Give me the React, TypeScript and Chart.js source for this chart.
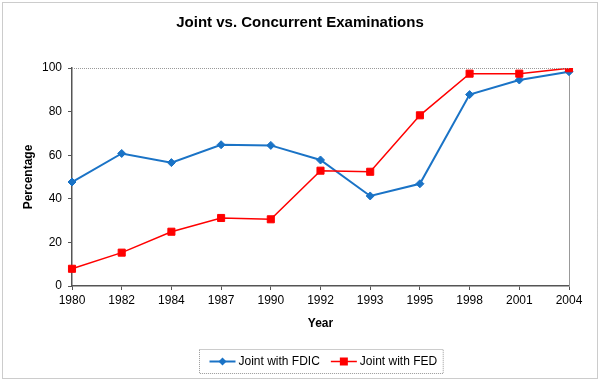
import React, { useEffect, useRef } from 'react';
import { Chart, registerables } from 'chart.js';

Chart.register(...registerables);

const years = ['1980', '1982', '1984', '1987', '1990', '1992', '1993', '1995', '1998', '2001', '2004'];
const fdicValues = [47.7, 60.8, 56.6, 64.8, 64.5, 57.8, 41.3, 46.9, 87.8, 94.5, 98.3];
const fedValues = [7.9, 15.3, 24.9, 31.2, 30.6, 52.9, 52.4, 78.3, 97.4, 97.4, 99.9];
const yTicks = [0, 20, 40, 60, 80, 100];

const FONT = 'Arial, "Liberation Sans", sans-serif';
const BLUE = '#1a73c6';
const RED = '#ff0000';
const AXIS = '#555555';

const decorPlugin = {
  id: 'decor',
  beforeDraw(chart: any) {
    const { ctx, width, height } = chart;
    ctx.save();
    ctx.fillStyle = '#ffffff';
    ctx.fillRect(0, 0, width, height);
    ctx.restore();
  },
  afterDraw(chart: any) {
    const { ctx, chartArea } = chart;
    ctx.save();
    // outer dotted frame
    ctx.setLineDash([1, 1]);
    ctx.strokeStyle = '#999999';
    ctx.lineWidth = 1;
    ctx.strokeRect(2.5, 2.5, chart.width - 5, chart.height - 5);
    // top border of plot area
    ctx.beginPath();
    ctx.moveTo(chartArea.left, chartArea.top + 0.5);
    ctx.lineTo(chartArea.right, chartArea.top + 0.5);
    ctx.stroke();
    ctx.setLineDash([]);

    // legend
    const ds = chart.data.datasets;
    ctx.font = `12px ${FONT}`;
    ctx.textBaseline = 'middle';
    ctx.textAlign = 'left';
    const lineLen = 26;
    const padL = 10;
    const padR = 6;
    const gapText = 3;
    const gapItem = 11;
    const widths = ds.map((d: any) => ctx.measureText(d.label).width);
    let total = padL + padR;
    widths.forEach((w: number, i: number) => {
      total += lineLen + gapText + w + (i < widths.length - 1 ? gapItem : 0);
    });
    const cx = (chartArea.left + chartArea.right) / 2;
    const boxX = Math.round(cx - total / 2) + 0.5;
    const boxY = 349.5;
    const boxH = 24;
    ctx.setLineDash([1, 1]);
    ctx.strokeStyle = '#999999';
    ctx.strokeRect(boxX, boxY, total, boxH);
    ctx.setLineDash([]);
    const midY = boxY + boxH / 2;
    let x = boxX + padL;
    ds.forEach((d: any, i: number) => {
      ctx.strokeStyle = d.borderColor;
      ctx.lineWidth = d.borderWidth;
      ctx.beginPath();
      ctx.moveTo(x, midY);
      ctx.lineTo(x + lineLen, midY);
      ctx.stroke();
      const mx = x + lineLen / 2;
      ctx.fillStyle = d.pointBackgroundColor;
      ctx.beginPath();
      if (d.pointStyle === 'rect') {
        ctx.rect(mx - 4, midY - 4, 8, 8);
      } else {
        const r = 4;
        ctx.moveTo(mx, midY - r);
        ctx.lineTo(mx + r, midY);
        ctx.lineTo(mx, midY + r);
        ctx.lineTo(mx - r, midY);
        ctx.closePath();
      }
      ctx.fill();
      ctx.fillStyle = '#000000';
      ctx.fillText(d.label, x + lineLen + gapText, midY);
      x += lineLen + gapText + widths[i] + gapItem;
    });
    ctx.restore();
  },
};

export default function App() {
  const canvasRef = useRef<HTMLCanvasElement | null>(null);

  useEffect(() => {
    document.body.style.margin = '0';
    const canvas = canvasRef.current;
    if (!canvas) return;
    const chart = new Chart(canvas, {
      type: 'line',
      data: {
        labels: years,
        datasets: [
          {
            label: 'Joint with FDIC',
            data: fdicValues,
            borderColor: BLUE,
            backgroundColor: BLUE,
            pointBackgroundColor: BLUE,
            pointBorderColor: BLUE,
            borderWidth: 2,
            pointStyle: 'rectRot',
            pointRadius: 4,
            pointBorderWidth: 1,
            tension: 0,
            fill: false,
            order: 2,
          },
          {
            label: 'Joint with FED',
            data: fedValues,
            borderColor: RED,
            backgroundColor: RED,
            pointBackgroundColor: RED,
            pointBorderColor: RED,
            borderWidth: 1.5,
            pointStyle: 'rect',
            pointRadius: 5,
            pointBorderWidth: 1,
            tension: 0,
            fill: false,
            order: 1,
          },
        ],
      },
      options: {
        animation: false,
        responsive: false,
        events: [],
        layout: { padding: { left: 0, right: 0, top: 0, bottom: 45 } },
        plugins: {
          legend: { display: false },
          tooltip: { enabled: false },
          title: {
            display: true,
            text: 'Joint vs. Concurrent Examinations',
            color: '#000000',
            font: { family: FONT, size: 15, weight: 'bold' },
            padding: { top: 14, bottom: 36 },
          },
        },
        scales: {
          x: {
            type: 'category',
            offset: false,
            grid: { drawOnChartArea: false, drawTicks: true, tickLength: 4, color: AXIS },
            border: { color: AXIS, width: 1.5 },
            ticks: {
              color: '#000000',
              font: { family: FONT, size: 12 },
              padding: 3,
              maxRotation: 0,
              autoSkip: false,
            },
            title: {
              display: true,
              text: 'Year',
              color: '#000000',
              font: { family: FONT, size: 12, weight: 'bold' },
              padding: { top: 0, bottom: 4.8 },
            },
            afterFit: (s: any) => {
              s.height = 50;
            },
          },
          y: {
            type: 'linear',
            position: 'left',
            min: 0,
            max: 100,
            afterBuildTicks: (s: any) => {
              s.ticks = yTicks.map((v) => ({ value: v }));
            },
            grid: { drawOnChartArea: false, drawTicks: true, tickLength: 4, color: AXIS },
            border: { color: AXIS, width: 1.5 },
            ticks: {
              color: '#000000',
              font: { family: FONT, size: 12 },
              padding: 6,
            },
            title: {
              display: true,
              text: 'Percentage',
              color: '#000000',
              font: { family: FONT, size: 12, weight: 'bold' },
              padding: { top: 21.8, bottom: 0 },
            },
            afterFit: (s: any) => {
              s.width = 72;
            },
          },
          y2: {
            type: 'linear',
            position: 'right',
            min: 0,
            max: 100,
            grid: { display: false, drawOnChartArea: false, drawTicks: false },
            border: { display: true, color: '#999999', width: 1, dash: [1, 1] },
            ticks: { display: false },
            afterFit: (s: any) => {
              s.width = 31;
            },
          },
        },
      },
      plugins: [decorPlugin],
    } as any);
    return () => chart.destroy();
  }, []);

  return (
    <div style={{ position: 'absolute', left: 0, top: 0, width: 600, height: 381 }}>
      <canvas ref={canvasRef} width={600} height={381} />
    </div>
  );
}
